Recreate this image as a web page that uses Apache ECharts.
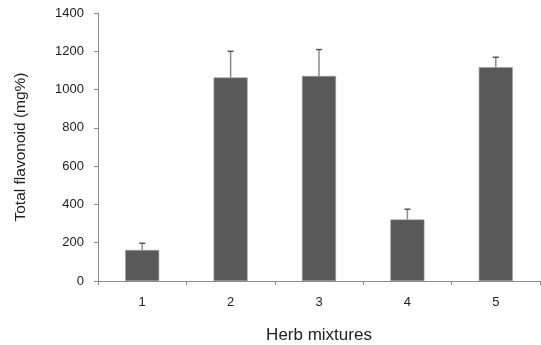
<!DOCTYPE html>
<html><head><meta charset="utf-8">
<script src="https://cdn.jsdelivr.net/npm/echarts@6/dist/echarts.min.js"></script>
<style>html,body{margin:0;padding:0;background:#fff}#c{width:541px;height:345px}</style>
</head><body><div id="c"></div>
<script>
const categories = ['1','2','3','4','5'];
const values = [162, 1063, 1071, 321, 1117];
const errors = [35, 137, 138, 54, 52];
const yTicks = {min:0, max:1400, interval:200};

const chart = echarts.init(document.getElementById('c'), null, {renderer:'canvas'});
const errData = values.map((v,i)=>[i, v, v+errors[i]]);
const axisColor = '#8c8c8c';
chart.setOption({
  animation:false,
  backgroundColor:'#fff',
  grid:{left:98, right:1, top:13, bottom:64, containLabel:false, outerBoundsMode:'none'},
  xAxis:{type:'category', data:categories, boundaryGap:true,
    axisLine:{lineStyle:{color:axisColor, width:1}},
    axisTick:{show:true, length:4, alignWithLabel:false, lineStyle:{color:axisColor}},
    axisLabel:{color:'#222', fontFamily:'Liberation Sans', fontSize:13, margin:15},
    name:'Herb mixtures', nameLocation:'middle', nameGap:46,
    nameTextStyle:{color:'#222', fontFamily:'Liberation Sans', fontSize:17}
  },
  yAxis:{type:'value', min:yTicks.min, max:yTicks.max, interval:yTicks.interval,
    splitLine:{show:false},
    axisLine:{show:true, lineStyle:{color:axisColor, width:1}},
    axisTick:{show:true, length:4, lineStyle:{color:axisColor}},
    axisLabel:{color:'#222', fontFamily:'Liberation Sans', fontSize:13, margin:14,
      formatter:function(v){return String(v);}},
    name:'Total flavonoid (mg%)', nameLocation:'middle', nameGap:69,
    nameTextStyle:{color:'#222', fontFamily:'Liberation Sans', fontSize:15.5}
  },
  series:[
    {type:'bar', data:values, barWidth:34,
     itemStyle:{color:'#595959', borderColor:'#9a9a9a', borderWidth:0.6}},
    {type:'custom', data:errData, z:1,
     renderItem:function(params, api){
       const x = api.value(0);
       const p0 = api.coord([x, api.value(1)]);
       const p1 = api.coord([x, api.value(2)]);
       return {type:'group', children:[
         {type:'line', shape:{x1:p0[0], y1:p0[1], x2:p1[0], y2:p1[1]}, style:{stroke:'#8a8a8a', lineWidth:1.5}},
         {type:'line', shape:{x1:p1[0]-3, y1:p1[1], x2:p1[0]+3, y2:p1[1]}, style:{stroke:'#555', lineWidth:1.5}}
       ]};
     }}
  ]
});
</script></body></html>
